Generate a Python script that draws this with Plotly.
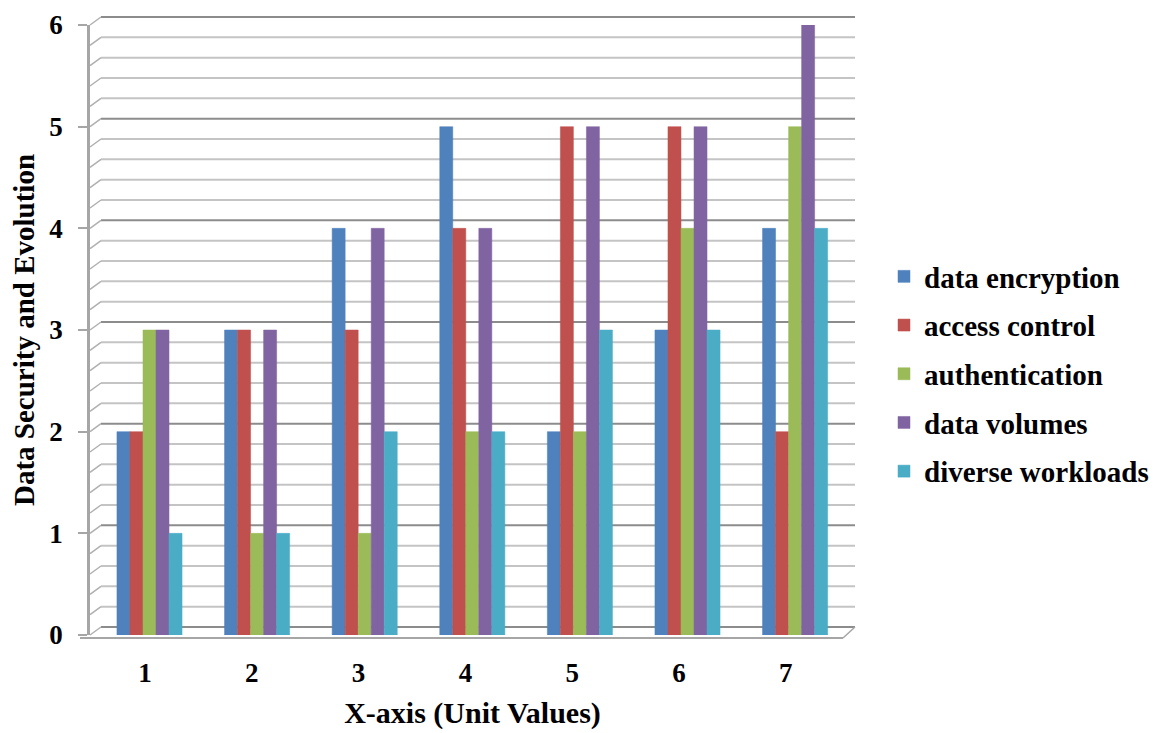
import plotly.graph_objects as go

categories = ["1", "2", "3", "4", "5", "6", "7"]
series_names = ["data encryption", "access control", "authentication", "data volumes", "diverse workloads"]
data_encryption = [2, 3, 4, 5, 2, 3, 4]
access_control = [2, 3, 3, 4, 5, 5, 2]
authentication = [3, 1, 1, 2, 2, 4, 5]
data_volumes = [3, 3, 4, 4, 5, 5, 6]
diverse_workloads = [1, 1, 2, 2, 3, 3, 4]
colors = ["#4F81BD", "#C0504D", "#9BBB59", "#8064A2", "#4BACC6"]
y_ticks = [0, 1, 2, 3, 4, 5, 6]

values = [data_encryption, access_control, authentication, data_volumes, diverse_workloads]

# ---- layout geometry ----
# The page body has an 8px margin, so target page pixels are shifted by OFF.
OFF = 8
W, H = 1167 - OFF, 733 - OFF
PLOT_L, PLOT_R, PLOT_T, PLOT_B = 90, 855, 25, 635   # page pixels
L, T = PLOT_L - OFF, PLOT_T - OFF
R = W - (PLOT_R - OFF)
B = H - (PLOT_B - OFF)
Y_MAX = 6
WALL_DX, WALL_DY = 11, 8  # 3D back-wall offset
WALL_RIGHT = 855


def fx(px):  # page px -> paper x
    return (px - OFF - L) / (W - L - R)


def fy(py):  # page px -> paper y
    return (H - B - (py - OFF)) / (H - T - B)


def ypix(v):  # value -> page px
    return PLOT_B - v * (PLOT_B - PLOT_T) / Y_MAX


x_nums = [int(c) for c in categories]

fig = go.Figure()
for name, vals, col in zip(series_names, values, colors):
    fig.add_trace(go.Bar(
        x=x_nums, y=vals, name="<b>" + name + "</b>", legendgroup=name,
        marker=dict(color=col, line=dict(color=col, width=0.5)),
    ))
# invisible carrier for the front (label) category axis
fig.add_trace(go.Scatter(x=x_nums, y=[None] * len(x_nums), xaxis="x2",
                         showlegend=False, hoverinfo="skip", mode="markers"))

# back wall gridlines with 3D side-wall diagonals
shapes = []
n_steps = Y_MAX * 5
for i in range(n_steps + 1):
    v = i / 5
    major = (i % 5 == 0)
    col = "#8C8C8C" if major else "#C4C4C4"
    py = ypix(v)
    shapes.append(dict(type="line", xref="paper", yref="paper", layer="below",
                       x0=fx(PLOT_L + WALL_DX), x1=fx(WALL_RIGHT),
                       y0=fy(py - WALL_DY), y1=fy(py - WALL_DY),
                       line=dict(color=col, width=2)))
    shapes.append(dict(type="line", xref="paper", yref="paper", layer="below",
                       x0=fx(PLOT_L), x1=fx(PLOT_L + WALL_DX),
                       y0=fy(py), y1=fy(py - WALL_DY),
                       line=dict(color="#B0B0B0", width=1.5)))
# floor front edge and right diagonal
py0 = ypix(0) + 3
shapes.append(dict(type="line", xref="paper", yref="paper", layer="below",
                   x0=fx(PLOT_L - 10), x1=fx(WALL_RIGHT - 12), y0=fy(py0), y1=fy(py0),
                   line=dict(color="#A6A6A6", width=2)))
shapes.append(dict(type="line", xref="paper", yref="paper", layer="below",
                   x0=fx(WALL_RIGHT - 12), x1=fx(WALL_RIGHT), y0=fy(py0), y1=fy(ypix(0) - WALL_DY),
                   line=dict(color="#A6A6A6", width=1.5)))

# bars sit slightly back (depth) from the front category labels
bar_spacing, bar_first = 107.6, 149.5
lab_spacing, lab_first = 106.8, 145
bx0 = 1 - (bar_first - PLOT_L) / bar_spacing
bx1 = bx0 + (PLOT_R - PLOT_L) / bar_spacing
lx0 = 1 - (lab_first - PLOT_L) / lab_spacing
lx1 = lx0 + (PLOT_R - PLOT_L) / lab_spacing

font_family = "Liberation Serif, Times New Roman, serif"
fig.update_layout(
    width=W, height=H,
    paper_bgcolor="white", plot_bgcolor="rgba(0,0,0,0)",
    barmode="group", bargap=0.395, bargroupgap=0.0,
    margin=dict(l=L, r=R, t=T, b=B),
    font=dict(family=font_family, color="black"),
    shapes=shapes,
    showlegend=True,
    legend=dict(
        x=fx(884), y=fy(251), xanchor="left", yanchor="top",
        font=dict(size=29, family=font_family, color="black"),
        tracegroupgap=8, itemwidth=30,
    ),
    xaxis=dict(
        range=[bx0, bx1], showticklabels=False,
        showline=False, showgrid=False, zeroline=False, ticks="",
        automargin=False,
    ),
    xaxis2=dict(
        overlaying="x", side="bottom", anchor="y",
        title=dict(text="<b>X-axis (Unit Values)</b>", font=dict(size=30), standoff=14),
        tickmode="array", tickvals=x_nums,
        ticktext=["<b>" + c + "</b>" for c in categories],
        tickfont=dict(size=27),
        range=[lx0, lx1],
        showline=False, showgrid=False, zeroline=False, ticks="",
        ticklabelstandoff=19, automargin=False,
    ),
    yaxis=dict(
        title=dict(text="<b>Data Security and Evolution</b>", font=dict(size=29), standoff=9),
        range=[0, Y_MAX], tickmode="array", tickvals=y_ticks,
        ticktext=["<b>" + str(t) + "</b>" for t in y_ticks],
        tickfont=dict(size=27),
        showline=True, linecolor="#A6A6A6", linewidth=2.5,
        ticks="outside", ticklen=9, tickcolor="#A6A6A6", tickwidth=2,
        ticklabelstandoff=10,
        showgrid=False, zeroline=False, automargin=False,
    ),
)

fig.write_html("out.html")
